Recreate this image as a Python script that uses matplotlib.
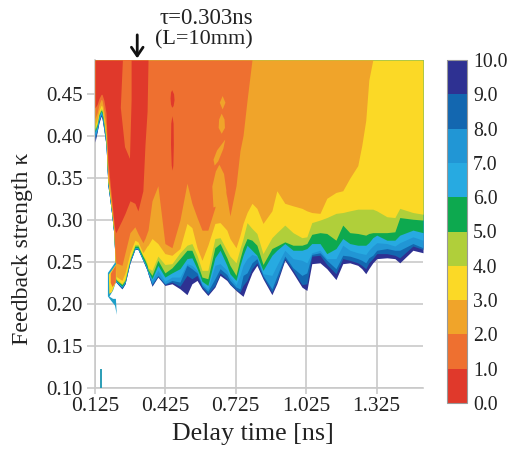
import numpy as np
import matplotlib
matplotlib.use("Agg")
import matplotlib.pyplot as plt
from matplotlib.colors import ListedColormap, BoundaryNorm
from matplotlib.cm import ScalarMappable

plt.rcParams['font.family'] = ['Liberation Serif', 'DejaVu Serif']

# --- Data: delay time columns and the feedback strength where each level is crossed ---
delay = [0.125, 0.134, 0.142, 0.151, 0.155, 0.163, 0.172, 0.180, 0.189, 0.197,
         0.206, 0.210, 0.214, 0.240, 0.253, 0.274, 0.295, 0.308, 0.329, 0.338,
         0.347, 0.351, 0.368, 0.393, 0.423, 0.453, 0.487, 0.517, 0.538, 0.560,
         0.581, 0.606, 0.636, 0.658, 0.687, 0.700, 0.726, 0.743, 0.756, 0.773,
         0.794, 0.815, 0.841, 0.879, 0.900, 0.934, 0.969, 1.007, 1.028, 1.049,
         1.084, 1.113, 1.152, 1.181, 1.211, 1.245, 1.262, 1.279, 1.292, 1.309,
         1.326, 1.369, 1.403, 1.424, 1.480, 1.523]

level_10 = [.393, .405, .416, .424, .421, .407, .389, .341, .323, .305,
            .282, .252, .226, .218, .224, .249, .265, .265, .252, .246,
            .240, .236, .221, .232, .222, .224, .218, .211, .224, .228,
            .218, .210, .220, .234, .228, .223, .216, .212, .209, .222,
            .237, .246, .230, .211, .224, .252, .237, .220, .216, .248,
            .249, .242, .229, .248, .249, .246, .242, .236, .242, .249,
            .254, .255, .254, .249, .264, .261]
level_9 = [.396, .406, .418, .425, .422, .408, .390, .342, .323, .305,
           .282, .252, .226, .218, .224, .249, .265, .265, .252, .246,
           .240, .236, .222, .233, .223, .226, .221, .234, .230, .234,
           .220, .212, .222, .237, .230, .224, .217, .214, .222, .228,
           .242, .249, .232, .214, .227, .254, .240, .223, .224, .257,
           .258, .247, .236, .254, .252, .249, .246, .242, .249, .254,
           .260, .260, .258, .255, .269, .265]
level_8 = [.399, .407, .419, .426, .424, .409, .390, .342, .323, .305,
           .282, .252, .227, .220, .226, .251, .266, .266, .252, .247,
           .241, .237, .224, .234, .224, .228, .226, .246, .242, .237,
           .222, .215, .230, .242, .235, .228, .220, .218, .234, .237,
           .249, .254, .234, .218, .233, .257, .243, .234, .237, .259,
           .261, .252, .242, .258, .257, .254, .252, .249, .255, .258,
           .264, .266, .264, .264, .272, .267]
level_7 = [.401, .409, .421, .427, .425, .412, .391, .344, .325, .305,
           .282, .252, .227, .220, .226, .251, .266, .266, .253, .248,
           .242, .237, .228, .240, .227, .232, .232, .248, .246, .240,
           .224, .218, .246, .248, .240, .232, .223, .234, .246, .254,
           .259, .257, .236, .234, .246, .264, .254, .252, .249, .261,
           .264, .254, .254, .270, .264, .261, .260, .259, .264, .269,
           .273, .272, .269, .273, .280, .276]
level_6 = [.405, .412, .424, .430, .427, .414, .394, .345, .326, .307,
           .283, .253, .228, .221, .227, .252, .267, .267, .254, .249,
           .243, .239, .230, .246, .232, .237, .242, .254, .255, .242,
           .227, .222, .255, .264, .246, .236, .228, .246, .258, .270,
           .264, .258, .240, .258, .264, .272, .264, .264, .266, .272,
           .272, .260, .266, .278, .272, .270, .270, .270, .273, .279,
           .282, .276, .276, .282, .288, .285]
level_5 = [.407, .414, .426, .431, .430, .416, .396, .346, .327, .308,
           .284, .254, .229, .223, .228, .253, .269, .269, .257, .252,
           .246, .241, .234, .252, .237, .243, .254, .264, .264, .249,
           .232, .230, .267, .272, .255, .246, .234, .254, .267, .278,
           .276, .270, .247, .266, .269, .274, .270, .270, .272, .283,
           .285, .284, .276, .294, .285, .284, .283, .282, .284, .285,
           .285, .285, .286, .303, .301, .300]
level_4 = [.409, .416, .428, .433, .432, .419, .398, .347, .328, .309,
           .285, .255, .230, .224, .230, .254, .271, .271, .258, .254,
           .248, .243, .240, .257, .247, .248, .261, .270, .272, .258,
           .240, .240, .278, .279, .264, .257, .249, .266, .278, .297,
           .290, .284, .260, .279, .285, .294, .285, .279, .280, .297,
           .300, .303, .308, .309, .311, .313, .313, .313, .313, .313,
           .311, .304, .303, .314, .309, .307]
level_3 = [.413, .420, .431, .437, .436, .421, .401, .350, .329, .311,
           .286, .257, .233, .228, .237, .261, .276, .274, .261, .265,
           .269, .270, .278, .272, .260, .258, .266, .296, .291, .267,
           .252, .270, .296, .297, .288, .278, .267, .282, .296, .309,
           .320, .314, .296, .311, .335, .320, .317, .314, .311, .309,
           .308, .326, .333, .335, .350, .365, .389, .419, .467, .491,
           .491, .491, .491, .491, .491, .491]
level_2 = [.421, .428, .438, .444, .443, .431, .413, .357, .335, .315,
           .290, .264, .249, .246, .261, .285, .292, .284, .273, .278,
           .285, .288, .323, .341, .272, .267, .300, .344, .320, .303,
           .288, .288, .315, .365, .327, .305, .341, .383, .401, .443,
           .491, .491, .491, .491, .491, .491, .491, .491, .491, .491,
           .491, .491, .491, .491, .491, .491, .491, .491, .491, .491,
           .491, .491, .491, .491, .491, .491]
level_1 = [.434, .438, .445, .450, .450, .443, .428, .371, .345, .323,
           .297, .288, .285, .300, .308, .323, .320, .311, .335, .390,
           .430, .491] + [.491] * 44

# islands that the level curves above cannot follow
finger_delay = [.244, .281, .281, .274, .253, .235]
finger_kappa = [.491, .491, .443, .373, .387, .434]
red_a_delay = [.454, .462, .464, .460, .454, .449, .447, .449]
red_a_kappa = [.455, .450, .443, .436, .434, .438, .445, .452]
red_b_delay = [.455, .460, .461, .459, .456, .452, .449, .450]
red_b_kappa = [.424, .415, .390, .365, .359, .365, .390, .415]
amber_a_delay = [.669, .681, .669, .657]
amber_a_kappa = [.448, .440, .432, .440]
amber_b_delay = [.665, .677, .679, .665, .652, .654]
amber_b_kappa = [.427, .420, .410, .403, .410, .420]
amber_c_delay = [.630, .645, .680, .672, .650, .635]
amber_c_kappa = [.372, .383, .396, .385, .370, .365]
amber_d_delay = [.655, .675, .685, .680, .630, .625, .640]
amber_d_kappa = [.366, .355, .335, .320, .315, .340, .358]
low_delay = [.180, .193, .210, .214, .214, .202, .185, .180]
low_kappa = [.237, .242, .249, .249, .226, .216, .208, .209]
low_yellow_delay = [.184, .197, .214, .214, .197, .186]
low_yellow_kappa = [.235, .240, .247, .226, .214, .212]
low_orange_delay = [.192, .214, .214, .200, .192]
low_orange_kappa = [.236, .246, .226, .220, .225]
tail_delay = [.185, .202, .214, .218, .210, .193, .180]
tail_kappa = [.209, .206, .206, .187, .198, .204, .209]
speck_delay = [.149, .149]
speck_kappa = [.121, .100]

colors = ['#E0392B', '#EE7030', '#F0A42A', '#FBD926', '#B0CF3A',
          '#0DA94F', '#27AAE1', '#2196D5', '#1367B0', '#2E3192']
levels = [0, 1, 2, 3, 4, 5, 6, 7, 8, 9, 10]
x_ticks = [0.125, 0.425, 0.725, 1.025, 1.325]
y_ticks = [0.10, 0.15, 0.20, 0.25, 0.30, 0.35, 0.40, 0.45]

W, H = 507, 451
TOP = 0.491
grey = '#C9C9C9'
ink = '#222222'

fig = plt.figure(figsize=(W / 100, H / 100), dpi=100)
ax = fig.add_axes([95 / W, 1 - 387.7 / H, 328 / W, 327.7 / H])
ax.set_xlim(0.125, 1.523)
ax.set_ylim(0.10, TOP)

# --- Bands: painted from the outer edge upward so no seams show ---
curves = [level_10, level_9, level_8, level_7, level_6,
          level_5, level_4, level_3, level_2, level_1]
for curve, col in zip(curves, colors[::-1]):
    ax.fill_between(delay, curve, TOP, color=col, lw=0, zorder=2)

ax.fill(finger_delay, finger_kappa, color=colors[1], lw=0, zorder=3)
ax.fill(red_a_delay, red_a_kappa, color=colors[0], lw=0, zorder=3)
ax.fill(red_b_delay, red_b_kappa, color=colors[0], lw=0, zorder=3)
for dx, ky in [(amber_a_delay, amber_a_kappa), (amber_b_delay, amber_b_kappa),
               (amber_c_delay, amber_c_kappa), (amber_d_delay, amber_d_kappa)]:
    ax.fill(dx, ky, color=colors[2], lw=0, zorder=3)
ax.fill(low_delay, low_kappa, color='#1F9FC8', lw=0, zorder=3)
ax.fill(low_yellow_delay, low_yellow_kappa, color=colors[3], lw=0, zorder=3)
ax.fill(low_orange_delay, low_orange_kappa, color=colors[1], lw=0, zorder=3)
ax.fill(tail_delay, tail_kappa, color='#1F9FC8', lw=0, zorder=3)
ax.plot(speck_delay, speck_kappa, color='#2A9DB5', lw=1.4, zorder=3)

# --- Axes ---
ax.set_xticks(x_ticks)
ax.set_xticklabels(['%.3f' % t for t in x_ticks])
ax.set_yticks(y_ticks)
ax.set_yticklabels(['%.2f' % t for t in y_ticks])
ax.grid(True, color=grey, lw=1.2, zorder=1)
ax.set_axisbelow(True)
for name in ['top', 'right']:
    ax.spines[name].set_visible(False)
for name in ['left', 'bottom']:
    ax.spines[name].set_color(grey)
    ax.spines[name].set_linewidth(1.2)
    ax.spines[name].set_zorder(1)
ax.tick_params(axis='x', length=4.3, width=1.2, color=grey, pad=2.5,
               labelsize=15.5, labelcolor=ink)
ax.tick_params(axis='y', length=5.8, width=1.2, color=grey, pad=3,
               labelsize=15, labelcolor=ink)

fig.text(253 / W, 1 - 434 / H, 'Delay time [ns]', fontsize=18.7, color=ink,
         ha='center', va='center')
fig.text(23 / W, 1 - 249 / H, 'Feedback strength κ', fontsize=17.2, color=ink,
         rotation=90, ha='center', va='center')

# --- Delay marker ---
ax.annotate('', xy=(0.305, TOP + 0.002), xytext=(0.305, TOP + 0.030),
            annotation_clip=False,
            arrowprops=dict(arrowstyle='->,head_width=0.42,head_length=0.62',
                            color='#111111', lw=2, shrinkA=0, shrinkB=0))
fig.text(206 / W, 1 - 18 / H, 'τ=0.303ns', fontsize=16.5, color=ink,
         ha='center', va='center')
fig.text(204 / W, 1 - 40 / H, '(L=10mm)', fontsize=16, color=ink,
         ha='center', va='center')

# --- Colour scale ---
cax = fig.add_axes([446.7 / W, 1 - 403 / H, 20 / W, 343 / H])
sm = ScalarMappable(norm=BoundaryNorm(levels, 10), cmap=ListedColormap(colors))
cb = fig.colorbar(sm, cax=cax, ticks=levels, spacing='uniform')
cb.ax.set_yticklabels(['%.1f' % v for v in levels])
cb.ax.tick_params(length=0, pad=4.5, labelsize=14.2, labelcolor=ink)
cb.outline.set_edgecolor('#999999')
cb.outline.set_linewidth(0.8)
cb.dividers.set_color('#8a6a50')
cb.dividers.set_linewidth(0.6)
cb.drawedges = True

fig.savefig("out.png", dpi=100)
